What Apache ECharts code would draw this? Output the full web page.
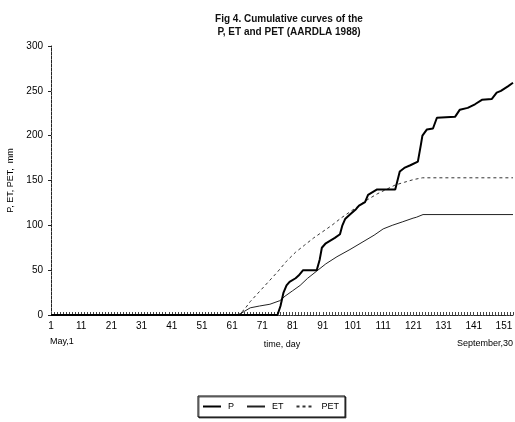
<!DOCTYPE html>
<html>
<head>
<meta charset="utf-8">
<script src="https://cdn.jsdelivr.net/npm/echarts@6/dist/echarts.min.js"></script>
<style>
  html, body { margin: 0; padding: 0; background: #fff; }
  #chart { width: 515px; height: 422px; }
</style>
</head>
<body>
<div id="chart"></div>
<script>
// Cumulative precipitation (P), evapotranspiration (ET) and potential ET (PET), mm,
// by day counted from 1 May to 30 September.
var pDays   = [1, 76, 77, 78, 79, 80, 82, 83, 84.5, 89, 90, 90.7, 92, 95, 96.7, 97.5, 98.4, 100, 102, 103, 105, 106, 109, 115, 116.5, 118, 120, 122.5, 123.5, 124, 125.5, 127.5, 128.8, 134.8, 136.4, 139, 141.4, 143.7, 147, 148.6, 150, 152.3, 154];
var pValues = [0, 0, 10, 25, 33, 37, 41, 44, 50, 50, 62, 75, 80, 86, 90, 100, 107, 112, 118, 122, 126, 134, 140, 140, 160, 164, 167, 171, 190, 200, 207, 208, 220, 221, 229, 231, 235, 240, 241, 248, 250, 255, 259];

var etDays   = [1, 63, 65, 67, 70, 73.5, 76.8, 78.5, 81, 83.5, 86, 89, 92, 95.7, 100, 104, 108, 111, 114, 117.5, 120.9, 122, 124.2, 154];
var etValues = [0, 0, 4, 8, 10, 12, 16, 21, 27, 33, 41, 49, 57, 65, 73, 81, 89, 96, 100, 104, 108, 109, 112, 112];

var petDays   = [1, 63, 65, 67, 70, 73, 76, 79, 82, 85, 88, 91, 94, 97, 100, 103, 106, 109, 112, 115, 118, 121, 124, 154];
var petValues = [0, 0, 6, 15, 26, 37, 48, 60, 70, 78, 86, 93, 100, 108, 115, 122, 129, 135, 140, 145, 148, 151, 153, 153];

var xTickLabels = [1, 11, 21, 31, 41, 51, 61, 71, 81, 91, 101, 111, 121, 131, 141, 151];
var seriesNames = ['P', 'ET', 'PET'];

function pairs(days, vals) {
  return days.map(function (d, i) { return [d, vals[i]]; });
}

// one small tick per day along the time axis
var dayTicks = [];
for (var d = 1; d <= 154; d++) dayTicks.push(d);

var FONT = 'Liberation Sans, Arial, sans-serif';
var chart = echarts.init(document.getElementById('chart'), null, { renderer: 'canvas' });

chart.setOption({
  animation: false,
  backgroundColor: '#fff',
  textStyle: { fontFamily: FONT, color: '#000' },
  title: {
    text: 'Fig 4. Cumulative curves of the\nP, ET and PET (AARDLA 1988)',
    left: 284, top: 8, textAlign: 'center',
    textStyle: { fontFamily: FONT, fontSize: 10, fontWeight: 'bold', color: '#111', lineHeight: 13 }
  },
  grid: { left: 51, right: 2, top: 46, bottom: 107, outerBoundsMode: 'none', containLabel: false },
  legend: {
    data: seriesNames,
    bottom: 5, left: 198,
    orient: 'horizontal',
    borderColor: '#000', borderWidth: 1, borderRadius: 0,
    shadowColor: 'rgba(0,0,0,0.6)', shadowOffsetX: 1, shadowOffsetY: 1, shadowBlur: 0,
    backgroundColor: '#fff',
    padding: [6, 6, 6, 4],
    itemGap: 12, itemWidth: 18, itemHeight: 8,
    itemStyle: { opacity: 0 },
    textStyle: { fontFamily: FONT, fontSize: 9, color: '#000', padding: [0, 0, 0, 2] }
  },
  xAxis: [{
    type: 'value', min: 1, max: 154,
    name: 'time, day', nameLocation: 'middle', nameGap: 25,
    nameTextStyle: { fontFamily: FONT, fontSize: 9, color: '#000' },
    axisLine: { onZero: false, lineStyle: { color: '#222', width: 1, type: [2, 1] } },
    axisTick: { show: true, inside: true, length: 3, customValues: dayTicks, lineStyle: { color: '#444', width: 1 } },
    axisLabel: { customValues: xTickLabels, fontFamily: FONT, fontSize: 10, color: '#000', margin: 6 },
    splitLine: { show: false }
  }, {
    type: 'value', min: 1, max: 154, position: 'top',
    axisLine: { show: true, lineStyle: { color: '#333', width: 1, type: [2, 2] } },
    axisTick: { show: false }, axisLabel: { show: false }, splitLine: { show: false }
  }],
  yAxis: {
    type: 'value', min: 0, max: 300, interval: 50,
    name: 'P, ET, PET,  mm', nameLocation: 'middle', nameGap: 35, nameRotate: 90,
    nameTextStyle: { fontFamily: FONT, fontSize: 9, color: '#000' },
    axisLine: { show: true, onZero: false, lineStyle: { color: '#222', width: 1, type: [3, 1] } },
    axisTick: { show: true, length: 3, lineStyle: { color: '#222' } },
    axisLabel: { fontFamily: FONT, fontSize: 10, color: '#000', margin: 8 },
    splitLine: { show: false }
  },
  graphic: [
    { type: 'text', left: 50, top: 337, style: { text: 'May,1', font: '9px ' + FONT, fill: '#000' } },
    { type: 'text', right: 2, top: 339, style: { text: 'September,30', font: '9px ' + FONT, fill: '#000' } }
  ],
  series: [
    {
      name: seriesNames[0], type: 'line', data: pairs(pDays, pValues),
      symbol: 'none', smooth: false,
      lineStyle: { color: '#000', width: 2 }, itemStyle: { color: '#000' }, z: 4
    },
    {
      name: seriesNames[1], type: 'line', data: pairs(etDays, etValues),
      symbol: 'none', smooth: false,
      lineStyle: { color: '#222', width: 1 }, itemStyle: { color: '#222' }, z: 3
    },
    {
      name: seriesNames[2], type: 'line', data: pairs(petDays, petValues),
      symbol: 'none', smooth: false,
      lineStyle: { color: '#333', width: 1, type: [3, 3] }, itemStyle: { color: '#333' }, z: 2
    }
  ]
});
</script>
</body>
</html>
